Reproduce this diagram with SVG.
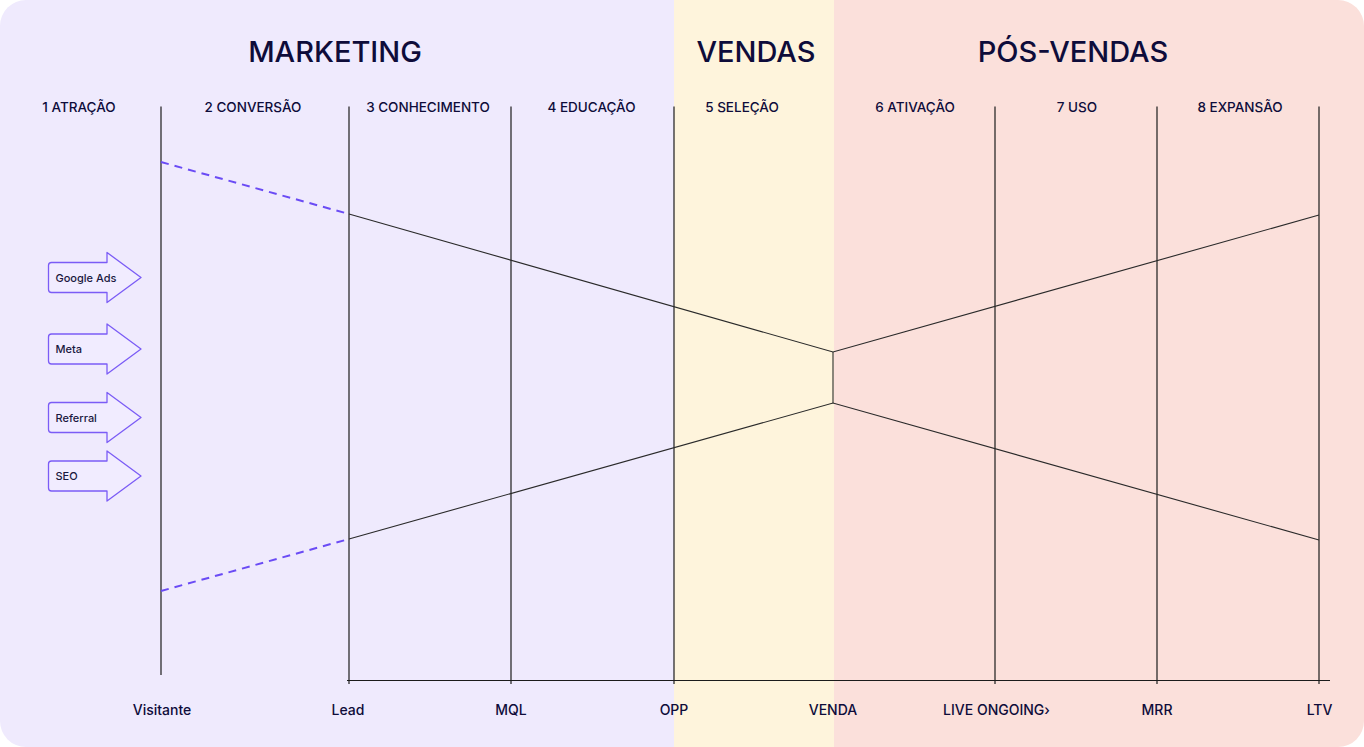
<svg xmlns="http://www.w3.org/2000/svg" width="1364" height="747" viewBox="0 0 1364 747">
  <defs>
    <clipPath id="panel">
      <rect x="0" y="0" width="1364" height="747" rx="26" ry="26"/>
    </clipPath>
    <style>
      .hdr { font-family: Inter, "Noto Sans", "DejaVu Sans", sans-serif; font-size: 29px; font-weight: 500; fill: #0E0C3A; text-anchor: middle; }
      .col { font-family: Inter, "Noto Sans", "DejaVu Sans", sans-serif; font-size: 13.5px; font-weight: 500; fill: #0E0C3A; text-anchor: middle; }
      .stage { font-family: Inter, "Noto Sans", "DejaVu Sans", sans-serif; font-size: 14px; font-weight: 500; fill: #0E0C3A; text-anchor: middle; }
      .src { font-family: Inter, "Noto Sans", "DejaVu Sans", sans-serif; font-size: 11px; font-weight: 500; fill: #1A1840; }
      .grid { stroke: #1B1B1B; stroke-width: 1.2; fill: none; }
      .funnel { stroke: #2A2A2A; stroke-width: 1.1; fill: none; }
      .dash { stroke: #6A4BF5; stroke-width: 2; stroke-dasharray: 8 6; fill: none; }
      .arrow { fill: #F1ECFF; stroke: #7B5CF6; stroke-width: 1.3; stroke-linejoin: round; }
    </style>
  </defs>

  <g id="background" clip-path="url(#panel)">
    <rect x="0" y="0" width="674" height="747" fill="#EFEAFD"/>
    <rect x="674" y="0" width="160" height="747" fill="#FEF4DC"/>
    <rect x="834" y="0" width="530" height="747" fill="#FBE0DB"/>
  </g>

  <g id="headers">
    <text class="hdr" x="335" y="62">MARKETING</text>
    <text class="hdr" x="756" y="62">VENDAS</text>
    <text class="hdr" x="1073" y="62">PÓS-VENDAS</text>
  </g>

  <g id="columns">
    <text class="col" x="79" y="111.5">1 ATRAÇÃO</text>
    <text class="col" x="253" y="111.5">2 CONVERSÃO</text>
    <text class="col" x="428" y="111.5">3 CONHECIMENTO</text>
    <text class="col" x="591.5" y="111.5">4 EDUCAÇÃO</text>
    <text class="col" x="742" y="111.5">5 SELEÇÃO</text>
    <text class="col" x="915" y="111.5">6 ATIVAÇÃO</text>
    <text class="col" x="1077" y="111.5">7 USO</text>
    <text class="col" x="1240" y="111.5">8 EXPANSÃO</text>
  </g>

  <g id="grid">
    <line class="grid" x1="161" y1="106.5" x2="161" y2="675"/>
    <line class="grid" x1="349" y1="106.5" x2="349" y2="684"/>
    <line class="grid" x1="511" y1="106.5" x2="511" y2="684"/>
    <line class="grid" x1="674" y1="106.5" x2="674" y2="684"/>
    <line class="grid" x1="995" y1="106.5" x2="995" y2="684"/>
    <line class="grid" x1="1157" y1="106.5" x2="1157" y2="684"/>
    <line class="grid" x1="1319" y1="106.5" x2="1319" y2="684"/>
    <line class="grid" x1="347" y1="680.5" x2="1330" y2="680.5"/>
  </g>

  <g id="connectors">
    <line class="dash" x1="161" y1="162" x2="349" y2="214"/>
    <line class="dash" x1="161" y1="591" x2="349" y2="539"/>
    <polyline class="funnel" points="349,214 833,352 1319,215"/>
    <polyline class="funnel" points="349,539 833,403 1319,540"/>
    <line class="funnel" x1="833" y1="352" x2="833" y2="403"/>
  </g>

  <g id="source-google-ads">
    <path class="arrow" d="M51.5,262.5 H107 V252.5 L141,277.5 L107,302.5 V292.5 H51.5 Q48.5,292.5 48.5,289.5 V265.5 Q48.5,262.5 51.5,262.5 Z"/>
    <text class="src" x="55.5" y="281.5">Google Ads</text>
  </g>
  <g id="source-meta">
    <path class="arrow" d="M51.5,334 H107 V324 L141,349 L107,374 V364 H51.5 Q48.5,364 48.5,361 V337 Q48.5,334 51.5,334 Z"/>
    <text class="src" x="55.5" y="353">Meta</text>
  </g>
  <g id="source-referral">
    <path class="arrow" d="M51.5,402.5 H107 V392.5 L141,417.5 L107,442.5 V432.5 H51.5 Q48.5,432.5 48.5,429.5 V405.5 Q48.5,402.5 51.5,402.5 Z"/>
    <text class="src" x="55.5" y="421.5">Referral</text>
  </g>
  <g id="source-seo">
    <path class="arrow" d="M51.5,461 H107 V451 L141,476 L107,501 V491 H51.5 Q48.5,491 48.5,488 V464 Q48.5,461 51.5,461 Z"/>
    <text class="src" x="55.5" y="480">SEO</text>
  </g>

  <g id="stages">
    <text class="stage" x="162" y="714.5">Visitante</text>
    <text class="stage" x="348" y="714.5">Lead</text>
    <text class="stage" x="511" y="714.5">MQL</text>
    <text class="stage" x="674" y="714.5">OPP</text>
    <text class="stage" x="833" y="714.5">VENDA</text>
    <text class="stage" x="996.5" y="714.5">LIVE ONGOING›</text>
    <text class="stage" x="1157" y="714.5">MRR</text>
    <text class="stage" x="1319.5" y="714.5">LTV</text>
  </g>
</svg>
